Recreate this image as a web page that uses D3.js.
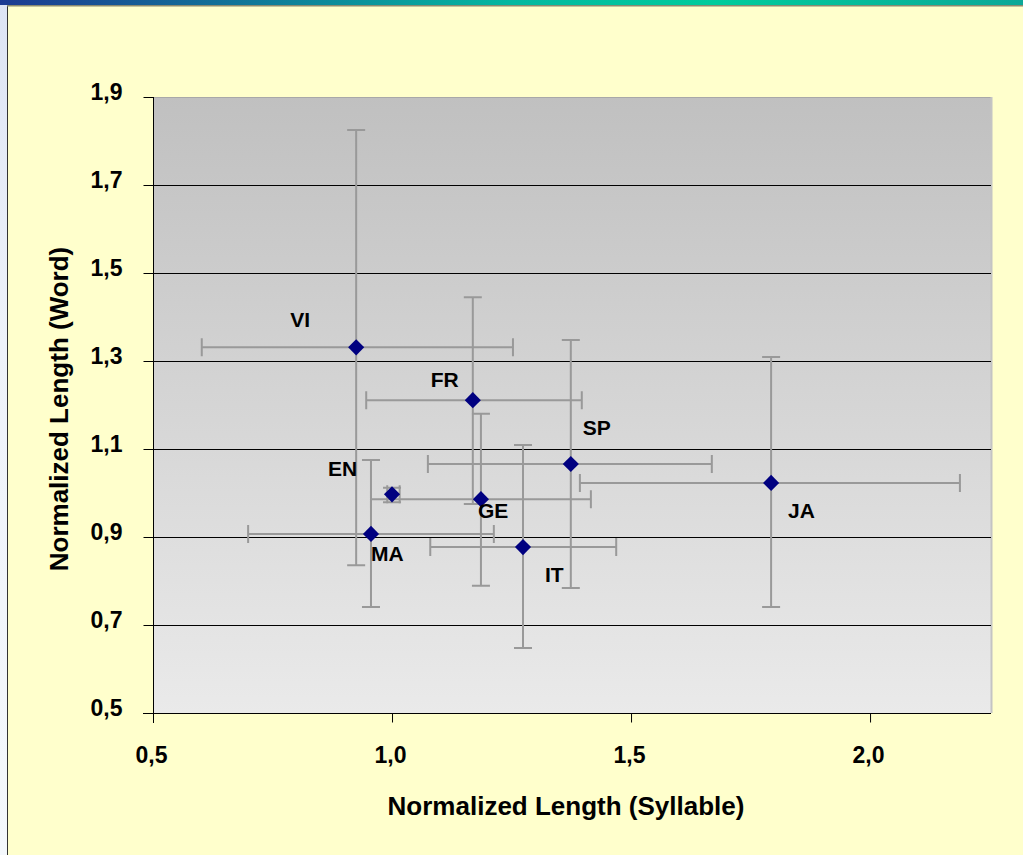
<!DOCTYPE html>
<html>
<head>
<meta charset="utf-8">
<script src="https://cdn.jsdelivr.net/npm/d3@7"></script>
<style>
  body { margin: 0; background: #fff; }
  svg text { font-family: Arial, "Liberation Sans", sans-serif; font-weight: bold; fill: #000; }
</style>
</head>
<body>
<div id="chart"></div>
<script>
// languages and their normalized lengths (syllable = x, word = y)
var langs  = ["VI", "FR", "GE", "EN", "MA", "IT", "SP", "JA"];
var xVal   = [0.925, 1.169, 1.186, 1.0, 0.956, 1.274, 1.374, 1.793];
var yVal   = [1.331, 1.211, 0.986, 0.997, 0.907, 0.877, 1.066, 1.023];
var xLow   = [0.602, 0.946, 0.956, 0.99, 0.699, 1.080, 1.075, 1.393];
var xHigh  = [1.253, 1.397, 1.416, 1.016, 1.213, 1.469, 1.669, 2.188];
var yLow   = [0.836, 0.975, 0.789, 0.979, 0.741, 0.648, 0.784, 0.741];
var yHigh  = [1.825, 1.445, 1.180, 1.012, 1.075, 1.109, 1.348, 1.309];
// label offsets relative to the point
var labelDx = [-66, -42, -3, -64, 0, 22, 12, 17];
var labelDy = [-20, -13, 19, -18, 27, 35, -29, 35];

var xTicks = [0.5, 1.0, 1.5, 2.0];
var yTicks = [0.5, 0.7, 0.9, 1.1, 1.3, 1.5, 1.7, 1.9];

var W = 1023, H = 855;
var plot = {left: 153, right: 991, top: 97, bottom: 713};

var svg = d3.select("#chart").append("svg")
    .attr("width", W)
    .attr("height", H);

var defs = svg.append("defs");
var topGrad = defs.append("linearGradient").attr("id", "topband");
topGrad.append("stop").attr("offset", "0%").attr("stop-color", "#1c3a92");
topGrad.append("stop").attr("offset", "50%").attr("stop-color", "#04b8a0");
topGrad.append("stop").attr("offset", "70%").attr("stop-color", "#00cc9c");
topGrad.append("stop").attr("offset", "100%").attr("stop-color", "#0ca898");

var leftGrad = defs.append("linearGradient").attr("id", "leftband")
    .attr("x1", 0).attr("y1", 0).attr("x2", 0).attr("y2", 1);
leftGrad.append("stop").attr("offset", "0%").attr("stop-color", "#dde4f4");
leftGrad.append("stop").attr("offset", "40%").attr("stop-color", "#eef2fa");
leftGrad.append("stop").attr("offset", "100%").attr("stop-color", "#f4f8fc");

var plotGrad = defs.append("linearGradient").attr("id", "plotbg")
    .attr("x1", 0).attr("y1", 0).attr("x2", 0).attr("y2", 1);
plotGrad.append("stop").attr("offset", "0%").attr("stop-color", "#c0c0c0");
plotGrad.append("stop").attr("offset", "100%").attr("stop-color", "#eaeaea");

// slide background
svg.append("rect").attr("x", 0).attr("y", 0).attr("width", W).attr("height", H).attr("fill", "#ffffcc");
svg.append("rect").attr("x", 0).attr("y", 0).attr("width", 7).attr("height", H).attr("fill", "url(#leftband)");
svg.append("line").attr("x1", 7.5).attr("x2", 7.5).attr("y1", 5).attr("y2", H)
    .attr("stroke", "#333").attr("stroke-width", 1);
svg.append("rect").attr("x", 0).attr("y", 0).attr("width", W).attr("height", 5).attr("fill", "url(#topband)");
svg.append("rect").attr("x", 7).attr("y", 5).attr("width", W - 7).attr("height", 1.5).attr("fill", "#8a8a70");

var x = d3.scaleLinear().domain([0.5, 2.253]).range([plot.left, plot.right]);
var y = d3.scaleLinear().domain([0.5, 1.9]).range([plot.bottom, plot.top]);

// plot area
svg.append("rect")
    .attr("x", plot.left).attr("y", plot.top)
    .attr("width", plot.right - plot.left).attr("height", plot.bottom - plot.top)
    .attr("fill", "url(#plotbg)");
svg.append("line")
    .attr("x1", plot.left).attr("x2", plot.right)
    .attr("y1", plot.top + 0.5).attr("y2", plot.top + 0.5)
    .attr("stroke", "#a8a8a8");
svg.append("line")
    .attr("x1", plot.right + 0.5).attr("x2", plot.right + 0.5)
    .attr("y1", plot.top).attr("y2", plot.bottom)
    .attr("stroke", "#c4c4c4").attr("stroke-width", 2);

// gridlines
svg.append("g")
    .selectAll("line")
    .data(yTicks.filter(function(d) { return d > 0.5 && d < 1.9; }))
    .enter().append("line")
    .attr("x1", plot.left).attr("x2", plot.right)
    .attr("y1", function(d) { return Math.round(y(d)) + 0.5; })
    .attr("y2", function(d) { return Math.round(y(d)) + 0.5; })
    .attr("stroke", "#000").attr("stroke-width", 1);

var fmt = function(d) { return d3.format(".1f")(d).replace(".", ","); };

// axes
var yAxis = svg.append("g")
    .attr("transform", "translate(" + (plot.left + 0.5) + ",0)")
    .call(d3.axisLeft(y).tickValues(yTicks).tickSize(10).tickPadding(21).tickFormat(fmt));
yAxis.select(".domain").attr("d", "M0," + plot.top + "V" + (plot.bottom + 10));
yAxis.selectAll(".tick text").attr("dy", "0.1em");

var xAxis = svg.append("g")
    .attr("transform", "translate(0," + (plot.bottom + 0.5) + ")")
    .call(d3.axisBottom(x).tickValues(xTicks).tickSize(9).tickPadding(24).tickFormat(fmt));
xAxis.select(".domain").attr("d", "M" + (plot.left - 10) + ",0H" + plot.right);
xAxis.selectAll(".tick text").attr("dx", -2);

svg.selectAll(".tick text")
    .style("font-size", "23px")
    .style("font-family", "Arial, 'Liberation Sans', sans-serif");
svg.selectAll(".tick line, .domain").attr("stroke", "#000");

// data rows
var rows = langs.map(function(l, i) {
    return {lang: l, x: xVal[i], y: yVal[i], x0: xLow[i], x1: xHigh[i], y0: yLow[i], y1: yHigh[i],
            dx: labelDx[i], dy: labelDy[i]};
});

var cap = 9;
var errColor = "#999999";
var err = svg.append("g").attr("stroke", errColor).attr("stroke-width", 2).attr("fill", "none");

rows.forEach(function(d) {
    var px = x(d.x), py = y(d.y);
    err.append("path")
        .attr("d", "M" + x(d.x0) + "," + py + "H" + x(d.x1)
            + "M" + x(d.x0) + "," + (py - cap) + "V" + (py + cap)
            + "M" + x(d.x1) + "," + (py - cap) + "V" + (py + cap));
    err.append("path")
        .attr("d", "M" + px + "," + y(d.y1) + "V" + y(d.y0)
            + "M" + (px - cap) + "," + y(d.y1) + "H" + (px + cap)
            + "M" + (px - cap) + "," + y(d.y0) + "H" + (px + cap));
});

svg.append("g")
    .selectAll("path")
    .data(rows)
    .enter().append("path")
    .attr("d", d3.symbol().type(d3.symbolSquare).size(130))
    .attr("transform", function(d) { return "translate(" + x(d.x) + "," + y(d.y) + ") rotate(45)"; })
    .attr("fill", "#000080");

svg.append("g")
    .selectAll("text")
    .data(rows)
    .enter().append("text")
    .attr("x", function(d) { return x(d.x) + d.dx; })
    .attr("y", function(d) { return y(d.y) + d.dy; })
    .attr("font-size", 21)
    .text(function(d) { return d.lang; });

// titles
svg.append("text")
    .attr("x", 566)
    .attr("y", 815)
    .attr("text-anchor", "middle")
    .attr("font-size", 26)
    .text("Normalized Length (Syllable)");

svg.append("text")
    .attr("transform", "translate(68,409) rotate(-90)")
    .attr("text-anchor", "middle")
    .attr("font-size", 26)
    .text("Normalized Length (Word)");
</script>
</body>
</html>
